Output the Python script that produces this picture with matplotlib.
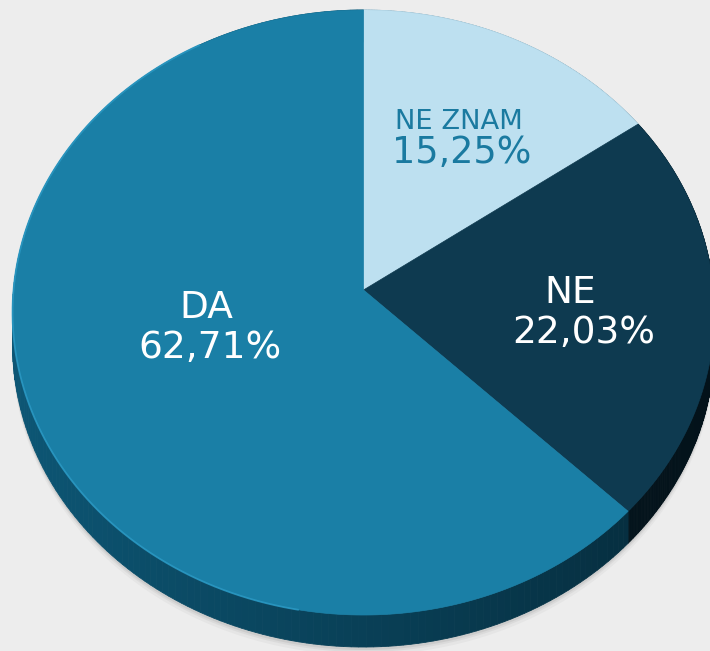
import numpy as np
import matplotlib.pyplot as plt
from matplotlib.patches import Polygon

# data
labels = ["NE ZNAM", "NE", "DA"]
shares = [15.25, 22.03, 62.71]

# style
top_colors = ["#bde0f0", "#0e3a50", "#1a7fa6"]
side_light = [(0.55, 0.70, 0.78), (0.035, 0.13, 0.18), (0.05, 0.34, 0.46)]
side_dark = [(0.40, 0.55, 0.62), (0.012, 0.07, 0.10), (0.02, 0.16, 0.22)]
text_colors = ["#1a7aa0", "white", "white"]
name_sizes = [19.7, 27, 27]
pct_sizes = [26.3, 27, 27]
# (x name, baseline name, x pct, baseline pct) in pixels
label_pos = [(459, 129, 462, 163), (570, 303, 584, 343), (206, 318, 210, 358)]

W, H = 710, 651
cx, apex_y = 363.5, 290
a, b, k = 350.0, 327.7, 0.0744
depth = 32


def project(theta, r=1.0):
    """perspective projection of a point on a tilted unit disc"""
    x = r * np.cos(theta)
    y = r * np.sin(theta)
    d = 1 + k * y
    px = cx + a * x / d
    py = H - (b * y + (H - apex_y)) / d
    return px, py


fig = plt.figure(figsize=(W / 100, H / 100), dpi=100)
fig.patch.set_facecolor("#ededed")
ax = fig.add_axes([0, 0, 1, 1])
ax.set_xlim(0, W)
ax.set_ylim(H, 0)
ax.axis("off")

# slice angles, clockwise from top
bounds = [90.0]
for s in shares:
    bounds.append(bounds[-1] - s / sum(shares) * 360)
bounds = np.radians(bounds)

# soft shadow under the pie
full = np.linspace(0, 2 * np.pi, 400)
sx, sy = project(full)
for off, al in [(8, 0.05), (5, 0.07), (3, 0.10)]:
    ax.add_patch(Polygon(np.c_[sx, sy + depth + off], closed=True,
                         fc="#555555", ec="none", alpha=al))

# sides
for i in range(len(shares)):
    ts = np.linspace(bounds[i], bounds[i + 1], 200)
    for t0, t1 in zip(ts[:-1], ts[1:]):
        x0, y0 = project(t0)
        x1, y1 = project(t1)
        f = 0.5 + 0.5 * np.cos((t0 + t1) / 2 - np.pi)
        col = [side_dark[i][c] + (side_light[i][c] - side_dark[i][c]) * f for c in range(3)]
        ax.add_patch(Polygon([(x0, y0), (x1, y1), (x1, y1 + depth), (x0, y0 + depth)],
                             closed=True, fc=col, ec=col, lw=0.6))

# top faces
for i in range(len(shares)):
    ts = np.linspace(bounds[i], bounds[i + 1], 300)
    px, py = project(ts)
    ax0, ay0 = project(0.0, 0.0)
    pts = np.vstack([[ax0, ay0], np.c_[px, py]])
    ax.add_patch(Polygon(pts, closed=True, fc=top_colors[i], ec=top_colors[i], lw=0.5))

# light rim on the front left edge
rim = np.radians(np.linspace(120, 260, 200))
rx, ry = project(rim)
ax.plot(rx, ry, color="#2c9bc6", lw=1.3, alpha=0.8)

# labels
for i in range(len(shares)):
    xn, yn, xp, yp = label_pos[i]
    pct = f"{shares[i]:.2f}%".replace(".", ",")
    ax.text(xn, yn, labels[i], ha="center", va="baseline", color=text_colors[i],
            fontsize=name_sizes[i], family="DejaVu Sans")
    ax.text(xp, yp, pct, ha="center", va="baseline", color=text_colors[i],
            fontsize=pct_sizes[i], family="DejaVu Sans")

fig.savefig("out.png", dpi=100, facecolor=fig.get_facecolor())
